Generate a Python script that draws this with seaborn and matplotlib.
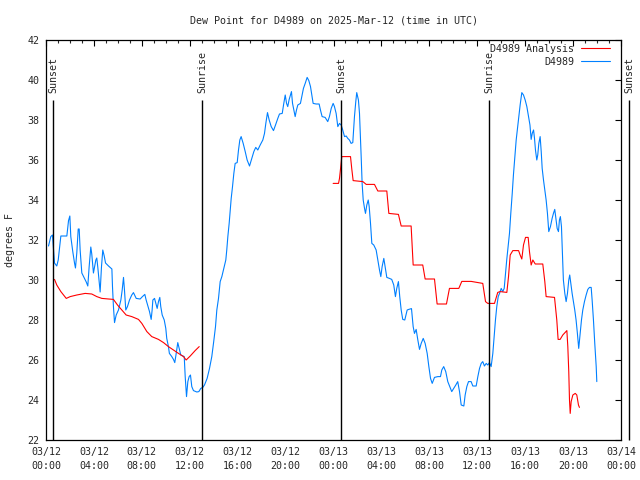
import matplotlib
matplotlib.use("Agg")
import matplotlib.pyplot as plt
import seaborn as sns
import pandas as pd
import numpy as np
from matplotlib.lines import Line2D
from matplotlib.ticker import MultipleLocator

# ---------------- data (hours since 2025-03-12 00:00 UTC) ----------------
obs_hours = [0.21, 0.4, 0.54, 0.63, 0.71, 0.9, 1.02, 1.18, 1.24, 1.74, 1.88, 1.99, 2.07, 2.24, 2.38, 2.46,
             2.57, 2.69, 2.77, 2.85, 2.99, 3.19, 3.36, 3.49, 3.6, 3.74, 3.82, 3.96, 4.05, 4.16, 4.24, 4.33,
             4.47, 4.52, 4.63, 4.74, 4.86, 4.97, 5.22, 5.5, 5.55, 5.63, 5.72, 5.86, 6.05, 6.25, 6.36, 6.47,
             6.55, 6.66, 6.8, 6.97, 7.16, 7.3, 7.53, 7.86, 8.05, 8.25, 8.36, 8.5, 8.64, 8.78, 8.86, 8.92,
             9.06, 9.17, 9.28, 9.39, 9.5, 9.58, 9.7, 9.87, 10.0, 10.08, 10.22, 10.3, 10.5, 10.64, 10.75,
             10.87, 11.0, 11.12, 11.25, 11.42, 11.54, 11.62, 11.73, 11.84, 11.95, 12.06, 12.17, 12.31,
             12.59, 12.76, 12.92, 13.09,
             13.23, 13.45, 13.65, 13.84, 14.0, 14.15, 14.26, 14.4, 14.54, 14.68, 14.84, 15.01, 15.09,
             15.18, 15.29, 15.38, 15.46, 15.57, 15.68, 15.79, 15.96, 16.07, 16.18, 16.29, 16.46, 16.63,
             16.79, 16.99, 17.18, 17.35, 17.51, 17.68, 17.88, 18.1, 18.24, 18.35, 18.49, 18.63, 18.8,
             18.99, 19.16, 19.35, 19.49, 19.72, 19.85, 19.97, 20.08, 20.18, 20.3, 20.41, 20.49, 20.58,
             20.69, 20.8, 20.91, 21.02, 21.24, 21.35, 21.49, 21.66, 21.8, 21.94, 22.08, 22.19, 22.3,
             22.55, 22.8, 22.91, 23.05, 23.3, 23.52, 23.66, 23.81, 23.97,
             24.08, 24.22, 24.36, 24.5, 24.64, 24.77, 24.92, 25.06, 25.19, 25.33, 25.47, 25.61, 25.75,
             25.86, 25.94, 26.08, 26.17, 26.25, 26.31, 26.39, 26.48, 26.59, 26.67, 26.78, 26.9, 26.98,
             27.09, 27.2, 27.36, 27.56, 27.7, 27.84, 27.95, 28.06, 28.2, 28.31, 28.45, 28.67, 28.86,
             29.03, 29.17, 29.28, 29.42, 29.53, 29.65, 29.78, 29.95, 30.15, 30.28, 30.51, 30.65, 30.76,
             30.9, 31.04, 31.18, 31.32, 31.49, 31.65, 31.82, 31.96, 32.1, 32.24, 32.43, 32.71, 32.93,
             33.04, 33.2, 33.37, 33.54, 33.71, 33.87, 34.04, 34.21, 34.37, 34.52, 34.66, 34.88, 34.99,
             35.13, 35.27, 35.49, 35.63, 35.91, 36.05, 36.19, 36.33, 36.46, 36.6, 36.75,
             36.88, 37.02, 37.16, 37.3, 37.41, 37.52, 37.63, 37.75, 37.86, 38.0, 38.13, 38.25, 38.36,
             38.46, 38.58, 38.69, 38.8, 38.92, 39.02, 39.14, 39.25, 39.36, 39.47, 39.58, 39.72, 39.86,
             40.0, 40.14, 40.28, 40.4, 40.5, 40.59, 40.7, 40.78, 40.86, 40.97, 41.05, 41.14, 41.25,
             41.34, 41.42, 41.53, 41.64, 41.75, 41.86, 41.97, 42.11, 42.25, 42.36, 42.47, 42.58, 42.67,
             42.78, 42.86, 42.94, 43.03, 43.11, 43.19, 43.31, 43.42, 43.53, 43.64, 43.72, 43.81, 43.92,
             44.03, 44.14, 44.25, 44.36, 44.47, 44.59, 44.7, 44.81, 44.95, 45.09, 45.23, 45.37, 45.51,
             45.59, 45.7, 45.81, 45.93, 45.98]
obs_dewpt = [31.7, 32.17, 32.25, 31.5, 30.85, 30.7, 31.0, 31.9, 32.2, 32.2, 32.97, 33.2, 32.17, 31.4, 30.85,
             30.6, 31.35, 32.55, 32.55, 31.5, 30.35, 30.1, 29.9, 29.7, 30.65, 31.65, 31.3, 30.35, 30.65,
             31.0, 31.1, 30.6, 29.75, 29.4, 30.65, 31.5, 31.2, 30.85, 30.7, 30.55, 29.67, 28.67, 27.87,
             28.25, 28.5, 29.0, 29.5, 30.13, 29.5, 28.5, 28.67, 29.0, 29.25, 29.37, 29.08, 29.05, 29.17,
             29.28, 29.0, 28.7, 28.42, 28.03, 28.5, 29.0, 29.08, 28.83, 28.58, 28.92, 29.13, 28.67, 28.25,
             28.0, 27.58, 27.08, 26.67, 26.33, 26.17, 26.03, 25.87, 26.33, 26.87, 26.58, 26.25, 26.2,
             26.17, 25.17, 24.17, 24.92, 25.17, 25.25, 24.67, 24.47, 24.4, 24.42, 24.58, 24.63,
             24.75, 25.08, 25.58, 26.17, 26.92, 27.67, 28.5, 29.08, 29.92, 30.17, 30.58, 31.0, 31.5,
             32.17, 32.83, 33.5, 34.08, 34.67, 35.33, 35.83, 35.87, 36.5, 37.0, 37.17, 36.83, 36.42,
             36.0, 35.7, 36.08, 36.42, 36.63, 36.5, 36.75, 37.0, 37.33, 37.83, 38.37, 38.0, 37.67,
             37.47, 37.75, 38.08, 38.3, 38.33, 38.83, 39.25, 38.83, 38.67, 39.03, 39.25, 39.42, 38.83,
             38.5, 38.17, 38.5, 38.75, 38.83, 39.17, 39.58, 39.87, 40.13, 39.97, 39.67, 39.25, 38.83,
             38.8, 38.8, 38.5, 38.17, 38.13, 37.92, 38.17, 38.58, 38.83,
             38.67, 38.33, 37.67, 37.83, 37.75, 37.5, 37.17, 37.2, 37.08, 37.0, 36.83, 36.87, 38.17,
             38.92, 39.37, 39.0, 38.33, 37.17, 36.17, 34.83, 34.0, 33.58, 33.33, 33.75, 34.0, 33.67,
             32.83, 31.83, 31.75, 31.5, 31.0, 30.5, 30.17, 30.67, 31.08, 30.67, 30.13, 30.08, 30.03,
             29.75, 29.17, 29.58, 29.92, 29.17, 28.5, 28.03, 28.0, 28.5, 28.53, 28.57, 27.67, 27.33,
             27.53, 27.0, 26.53, 26.83, 27.08, 26.83, 26.33, 25.67, 25.08, 24.83, 25.13, 25.17, 25.17,
             25.5, 25.67, 25.42, 24.92, 24.67, 24.42, 24.58, 24.75, 24.92, 24.42, 23.75, 23.7, 24.25,
             24.67, 24.92, 24.92, 24.7, 24.7, 25.17, 25.58, 25.83, 25.92, 25.7, 25.83,
             25.75, 25.87, 25.67, 26.33, 27.17, 28.0, 28.67, 29.17, 29.33, 29.58, 29.42, 29.58, 30.33,
             31.0, 31.67, 32.33, 33.33, 34.33, 35.25, 36.17, 37.0, 37.58, 38.17, 38.75, 39.37, 39.25,
             39.0, 38.67, 38.17, 37.75, 37.03, 37.33, 37.5, 37.08, 36.5, 36.0, 36.25, 36.83, 37.17,
             36.42, 35.58, 35.0, 34.5, 34.0, 33.33, 32.42, 32.67, 33.08, 33.33, 33.53, 33.0, 32.58,
             32.42, 33.0, 33.17, 32.67, 31.33, 30.0, 29.33, 28.92, 29.33, 30.0, 30.25, 29.83, 29.33,
             28.92, 28.5, 28.0, 27.33, 26.58, 27.33, 28.0, 28.5, 28.92, 29.25, 29.53, 29.63, 29.63,
             29.0, 28.0, 26.83, 25.67, 24.92]

anl_hours_1 = [0.71, 0.9, 1.24, 1.69, 2.02, 2.57, 3.27, 3.82, 4.24, 4.66, 5.22, 5.63, 5.97, 6.33, 6.69,
               7.16, 7.72, 8.0, 8.42, 8.83, 9.39, 9.81, 10.22, 10.64, 11.06, 11.48, 11.7, 12.04, 12.45, 12.79]
anl_dewpt_1 = [30.03, 29.75, 29.42, 29.08, 29.17, 29.25, 29.33, 29.3, 29.17, 29.08, 29.05, 29.03, 28.75,
               28.5, 28.25, 28.17, 28.03, 27.83, 27.42, 27.17, 27.03, 26.87, 26.67, 26.5, 26.33, 26.17,
               26.0, 26.2, 26.47, 26.67]
anl_hours_2 = [23.97, 24.42, 24.5, 24.59, 24.69, 25.42, 25.53, 25.64, 26.45, 26.73, 27.42, 27.7, 28.45,
               28.62, 29.42, 29.65, 30.48, 30.65, 31.45, 31.65, 32.43, 32.65, 33.43, 33.68, 34.46, 34.71,
               35.49, 36.46, 36.69, 36.88, 37.44, 37.71, 37.92, 38.47, 38.61, 38.75, 38.97, 39.45, 39.58,
               39.72, 39.86, 40.03, 40.25, 40.36, 40.5, 40.64, 40.84, 41.47, 41.64, 41.75, 42.45, 42.64,
               42.75, 42.92, 43.14, 43.48, 43.56, 43.64, 43.7, 43.76, 43.84, 43.98, 44.18, 44.31, 44.45,
               44.53]
anl_dewpt_2 = [34.83, 34.83, 35.08, 35.58, 36.17, 36.17, 35.53, 34.97, 34.92, 34.78, 34.78, 34.45, 34.45,
               33.33, 33.28, 32.7, 32.7, 30.75, 30.75, 30.05, 30.05, 28.8, 28.8, 29.58, 29.58, 29.93,
               29.93, 29.83, 28.92, 28.83, 28.83, 29.38, 29.42, 29.38, 30.17, 31.25, 31.47, 31.47, 31.25,
               31.05, 31.75, 32.13, 32.13, 31.42, 30.75, 31.0, 30.8, 30.8, 29.92, 29.17, 29.13, 28.0,
               27.03, 27.03, 27.25, 27.47, 26.67, 25.42, 24.0, 23.33, 23.92, 24.25, 24.33, 24.25, 23.75,
               23.63]

sun_hours = [0.57, 13.0, 24.6, 36.96, 48.65]
sun_labels = ["Sunset", "Sunrise", "Sunset", "Sunrise", "Sunset"]

tick_hours = [0, 4, 8, 12, 16, 20, 24, 28, 32, 36, 40, 44, 48]
tick_labels = ["03/12\n00:00", "03/12\n04:00", "03/12\n08:00", "03/12\n12:00", "03/12\n16:00",
               "03/12\n20:00", "03/13\n00:00", "03/13\n04:00", "03/13\n08:00", "03/13\n12:00",
               "03/13\n16:00", "03/13\n20:00", "03/14\n00:00"]

title = "Dew Point for D4989 on 2025-Mar-12 (time in UTC)"
ylabel = "degrees F"
series_names = ["D4989 Analysis", "D4989"]

# ---------------- plot ----------------
sns.set_style("white")
plt.rcParams["font.family"] = ["DejaVu Sans Mono", "DejaVu Sans"]
FS = 7.2
BLUE = "#0080ff"
RED = "#ff0000"
LW = 0.8

obs_df = pd.DataFrame({"hour": obs_hours, "dewpt": obs_dewpt})
anl_df = pd.DataFrame({
    "hour": anl_hours_1 + anl_hours_2,
    "dewpt": anl_dewpt_1 + anl_dewpt_2,
    "seg": [1] * len(anl_hours_1) + [2] * len(anl_hours_2),
})

fig = plt.figure(figsize=(6.4, 4.8), dpi=100)
ax = fig.add_axes([46 / 640, 1 - 440 / 480, 575 / 640, 400 / 480])

sns.lineplot(data=obs_df, x="hour", y="dewpt", ax=ax, color=BLUE, lw=LW,
             estimator=None, sort=False, legend=False)
sns.lineplot(data=anl_df, x="hour", y="dewpt", units="seg", ax=ax, color=RED, lw=LW,
             estimator=None, sort=False, legend=False)

for h, lab in zip(sun_hours, sun_labels):
    ax.vlines(h, 22, 39, color="black", lw=1.0, clip_on=False, zorder=3)
    ax.text(h + 0.05, 39.35, lab, rotation=90, ha="center", va="bottom",
            fontsize=FS, clip_on=False)

ax.set_xlim(0, 48)
ax.set_ylim(22, 42)
ax.set_xticks(tick_hours)
ax.set_xticklabels(tick_labels, linespacing=1.45)
ax.xaxis.set_minor_locator(MultipleLocator(1))
ax.yaxis.set_major_locator(MultipleLocator(2))
ax.tick_params(axis="both", which="major", direction="in", length=4, width=0.8,
               top=True, right=True, labelsize=FS, color="black")
ax.tick_params(axis="x", which="major", pad=5)
ax.tick_params(axis="y", which="major", pad=4.5)
ax.tick_params(axis="x", which="minor", direction="in", length=2.2, width=0.8, top=True)
for sp in ax.spines.values():
    sp.set_color("black")
    sp.set_linewidth(0.9)

ax.set_xlabel("")
ax.set_ylabel(ylabel, fontsize=FS, labelpad=9)
ax.set_title(title, fontsize=FS, pad=12)

handles = [Line2D([], [], color=RED, lw=LW), Line2D([], [], color=BLUE, lw=LW)]
ax.legend(handles, series_names, loc="upper right", bbox_to_anchor=(0.981, 0.99),
          frameon=False, markerfirst=False, fontsize=FS, handlelength=2.9,
          handletextpad=0.7, labelspacing=0.3, borderpad=0, borderaxespad=0)

fig.savefig("out.png", dpi=100)
